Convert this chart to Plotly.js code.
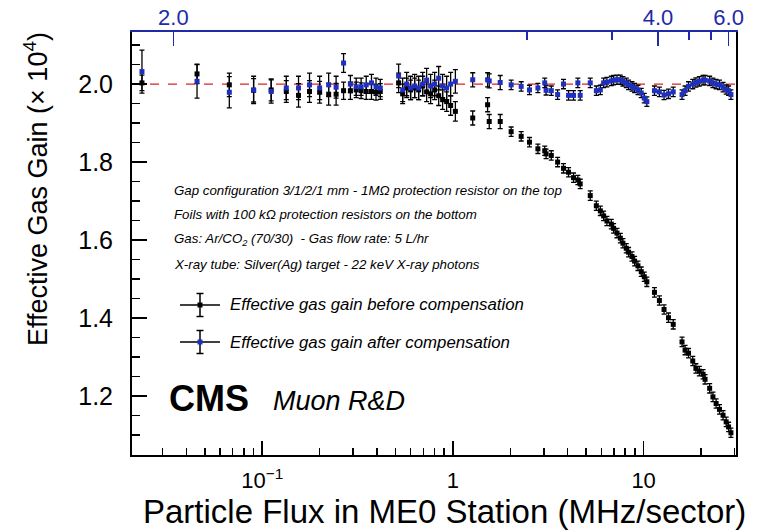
<!DOCTYPE html>
<html>
<head>
<meta charset="utf-8">
<script src="https://cdn.plot.ly/plotly-3.0.1.min.js"></script>
<style>
  html, body { margin: 0; padding: 0; background: #fff; }
  #chart { width: 757px; height: 532px; }
</style>
</head>
<body>
<div id="chart"></div>
<script>
// ---- Data ----
// Particle flux in ME0 station (MHz/sector)
const flux = [
  0.0234, 0.0455, 0.0672, 0.0901, 0.1114, 0.1337, 0.155, 0.177, 0.200, 0.223,
  0.244, 0.267, 0.290, 0.311, 0.330, 0.351, 0.374, 0.395, 0.416,
  0.519, 0.545, 0.572, 0.600, 0.630, 0.661, 0.694, 0.728, 0.764, 0.802,
  0.842, 0.883, 0.927, 0.973, 1.03,
  1.27, 1.52, 1.55, 1.77,
  2.02, 2.28, 2.52, 2.79, 3.03, 3.08, 3.28, 3.54, 3.80, 4.04,
  4.29, 4.52, 4.65, 5.25, 5.65, 5.93, 6.17, 6.42, 6.77, 6.96,
  7.25, 7.55, 7.79, 8.11, 8.34, 8.69, 8.97, 9.34, 9.72, 10.08,
  10.4, 11.4, 12.1, 12.8, 13.5, 14.3, 15.9, 16.5, 17.2, 18.1,
  18.8, 19.6, 20.5, 21.0, 22.2, 23.1, 24.0, 25.0, 26.1, 27.1,
  27.9, 28.7
];
// Effective gas gain (x 10^4) before compensation
const gainBefore = [
  2.003, 2.026, 1.998, 1.984, 1.985, 1.981, 1.971, 1.981, 1.979, 1.974,
  1.974, 1.983, 1.983, 1.985, 1.983, 1.981, 1.981, 1.979, 1.981,
  2.003, 1.975, 1.990, 1.985, 1.990, 1.985, 1.995, 1.980, 1.975, 1.985,
  1.970, 1.960, 1.955, 1.945, 1.930,
  1.913, 1.947, 1.904, 1.904,
  1.878, 1.866, 1.851, 1.834, 1.829, 1.821, 1.817, 1.800, 1.784, 1.774,
  1.760, 1.754, 1.744, 1.714, 1.688, 1.675, 1.662, 1.649, 1.641, 1.630,
  1.618, 1.605, 1.592, 1.579, 1.569, 1.558, 1.546, 1.534, 1.519, 1.506,
  1.493, 1.466, 1.445, 1.422, 1.401, 1.384, 1.339, 1.318, 1.310, 1.290,
  1.271, 1.264, 1.256, 1.243, 1.220, 1.198, 1.181, 1.166, 1.151, 1.134,
  1.121, 1.106
];
const errBefore = [
  0.020, 0.025, 0.030, 0.030, 0.028, 0.028, 0.030, 0.028, 0.028, 0.028,
  0.028, 0.022, 0.022, 0.020, 0.020, 0.020, 0.020, 0.020, 0.020,
  0.025, 0.025, 0.025, 0.025, 0.025, 0.025, 0.025, 0.025, 0.025, 0.025,
  0.025, 0.025, 0.025, 0.025, 0.025,
  0.018, 0.018, 0.018, 0.018,
  0.012, 0.012, 0.012, 0.012, 0.012, 0.012, 0.012, 0.012, 0.012, 0.012,
  0.012, 0.012, 0.012, 0.012, 0.012, 0.012, 0.012, 0.012, 0.012, 0.012,
  0.012, 0.012, 0.012, 0.012, 0.012, 0.012, 0.012, 0.012, 0.012, 0.012,
  0.012, 0.012, 0.012, 0.012, 0.012, 0.012, 0.012, 0.012, 0.012, 0.012,
  0.012, 0.012, 0.012, 0.012, 0.012, 0.012, 0.012, 0.012, 0.012, 0.012,
  0.012, 0.012
];
// Effective gas gain (x 10^4) after compensation
const gainAfter = [
  2.032, 2.007, 1.979, 1.985, 1.981, 1.990, 1.990, 1.998, 1.990, 1.998,
  1.992, 2.054, 2.000, 1.993, 1.993, 1.998, 2.003, 1.993, 1.990,
  2.021, 1.985, 2.000, 1.990, 1.995, 1.990, 2.000, 2.010, 1.995, 2.000,
  2.015, 1.995, 1.990, 2.000, 2.007,
  2.011, 2.011, 2.008, 2.004,
  1.998, 1.994, 1.985, 1.990, 2.003, 1.984, 1.983, 1.973, 2.000, 1.971,
  1.971, 2.003, 1.971, 2.003, 1.983, 1.985, 2.003, 2.005, 2.008, 2.010,
  2.011, 2.011, 2.007, 2.003, 1.998, 1.994, 1.990, 1.985, 1.977, 1.964,
  1.955, 1.983, 1.980, 1.972, 1.975, 1.980, 1.973, 1.983, 1.994, 2.000,
  2.004, 2.007, 2.010, 2.010, 2.008, 2.003, 2.000, 1.998, 1.992, 1.986,
  1.983, 1.973
];
const errAfter = [
  0.055, 0.043, 0.040, 0.035, 0.030, 0.030, 0.030, 0.030, 0.030, 0.030,
  0.028, 0.024, 0.022, 0.022, 0.022, 0.022, 0.022, 0.022, 0.022,
  0.030, 0.030, 0.030, 0.030, 0.030, 0.030, 0.030, 0.030, 0.030, 0.030,
  0.030, 0.030, 0.030, 0.030, 0.030,
  0.018, 0.018, 0.018, 0.018,
  0.012, 0.012, 0.012, 0.012, 0.012, 0.012, 0.012, 0.012, 0.012, 0.012,
  0.012, 0.012, 0.012, 0.012, 0.012, 0.012, 0.012, 0.012, 0.012, 0.012,
  0.012, 0.012, 0.012, 0.012, 0.012, 0.012, 0.012, 0.012, 0.012, 0.012,
  0.012, 0.012, 0.012, 0.012, 0.012, 0.012, 0.012, 0.012, 0.012, 0.012,
  0.012, 0.012, 0.012, 0.012, 0.012, 0.012, 0.012, 0.012, 0.012, 0.012,
  0.012, 0.012
];
const referenceGain = 2.0;

// Axis ticks
const xTickVals = [0.1, 1, 10];
const xTickText = ['10<sup>\u22121</sup>', '1', '10'];
const xMinorVals = [0.03,0.04,0.05,0.06,0.07,0.08,0.09,0.2,0.3,0.4,0.5,0.6,0.7,0.8,0.9,2,3,4,5,6,7,8,9,20,30];
const yTickVals = [1.2, 1.4, 1.6, 1.8, 2.0];
const yTickText = ['1.2', '1.4', '1.6', '1.8', '2.0'];
// Top axis (positions expressed on the flux scale)
const topMajorFlux = [0.0342, 11.9, 27.9];
const topMajorText = ['2.0', '4.0', '6.0'];
const topMinorFlux = [2.45, 6.83, 17.3, 22.5];

const seriesNames = ['Effective gas gain before compensation', 'Effective gas gain after compensation'];
const infoLines = [
  'Gap configuration 3/1/2/1 mm - 1M\u03A9 protection resistor on the top',
  'Foils with 100 k\u03A9 protection resistors on the bottom',
  'Gas: Ar/CO<sub>2</sub> (70/30)  - Gas flow rate: 5 L/hr',
  'X-ray tube: Silver(Ag) target - 22 keV X-ray photons'
];

// ---- Styles ----
const FONT = 'Liberation Sans, Arial, Helvetica, sans-serif';
const BLUE = '#1e2aa8';
const MBLUE = '#1f2fc0';
const xRange = [-1.683, 1.4845];

const traces = [
  {
    x: flux, y: gainBefore, type: 'scatter', mode: 'markers', name: seriesNames[0],
    marker: { symbol: 'square', size: 5, color: '#000' },
    error_y: { type: 'data', array: errBefore, visible: true, color: '#000', thickness: 1.3, width: 2.5 },
    showlegend: false, hoverinfo: 'x+y'
  },
  {
    x: flux, y: gainAfter, type: 'scatter', mode: 'markers', name: seriesNames[1],
    marker: { symbol: 'square', size: 5, color: MBLUE },
    error_y: { type: 'data', array: errAfter, visible: true, color: '#000', thickness: 1.3, width: 2.5 },
    showlegend: false, hoverinfo: 'x+y'
  },
  // invisible carriers so the overlay axes are drawn
  { x: flux, y: gainAfter, xaxis: 'x2', type: 'scatter', mode: 'none', showlegend: false, hoverinfo: 'skip' },
  { x: flux, y: gainAfter, xaxis: 'x3', type: 'scatter', mode: 'none', showlegend: false, hoverinfo: 'skip' },
  { x: flux, y: gainAfter, xaxis: 'x4', type: 'scatter', mode: 'none', showlegend: false, hoverinfo: 'skip' }
];

// paper coordinate helpers (plot area: 604 x 423 px)
const L = 132, T = 32, W = 604, H = 423;
const px = v => (v - L) / W;
const py = v => (T + H - v) / H;

const annotations = [];
infoLines.forEach((t, i) => {
  annotations.push({
    xref: 'paper', yref: 'paper', x: px(172), y: py(190 + i * 24.7), xanchor: 'left', yanchor: 'middle',
    text: t, showarrow: false, font: { family: FONT, size: 13.3, style: 'italic', color: '#000' }
  });
});
const legendY = [305, 342];
seriesNames.forEach((t, i) => {
  annotations.push({
    xref: 'paper', yref: 'paper', x: px(228), y: py(legendY[i]), xanchor: 'left', yanchor: 'middle',
    text: t, showarrow: false, font: { family: FONT, size: 16.8, style: 'italic', color: '#000' }
  });
});
annotations.push({
  xref: 'paper', yref: 'paper', x: px(167), y: py(398), xanchor: 'left', yanchor: 'middle',
  text: '<b>CMS</b>', showarrow: false, font: { family: FONT, size: 36, color: '#000' }
});
annotations.push({
  xref: 'paper', yref: 'paper', x: px(271), y: py(401), xanchor: 'left', yanchor: 'middle',
  text: 'Muon R&amp;D', showarrow: false, font: { family: FONT, size: 27, style: 'italic', color: '#000' }
});
// axis titles
annotations.push({
  xref: 'paper', yref: 'paper', x: px(748), y: py(511), xanchor: 'right', yanchor: 'middle',
  text: 'Particle Flux in ME0 Station (MHz/sector)', showarrow: false, font: { family: FONT, size: 33, color: '#000' }
});
annotations.push({
  xref: 'paper', yref: 'paper', x: px(36), y: py(30), xanchor: 'center', yanchor: 'top', textangle: -90,
  text: 'Effective Gas Gain (\u00D7 10<sup>4</sup>)', showarrow: false, font: { family: FONT, size: 27, color: '#000' }
});

const shapes = [
  { type: 'line', xref: 'paper', yref: 'y', x0: 0, x1: 1, y0: referenceGain, y1: referenceGain,
    line: { color: '#d22', width: 1.2, dash: 'dash' }, layer: 'below' }
];
// legend symbols
legendY.forEach((yy, i) => {
  const cx = px(200), cy = py(yy);
  shapes.push({ type: 'line', xref: 'paper', yref: 'paper', x0: px(180), x1: px(220), y0: cy, y1: cy, line: { color: '#000', width: 1.5 } });
  shapes.push({ type: 'line', xref: 'paper', yref: 'paper', x0: cx, x1: cx, y0: py(yy - 11.5), y1: py(yy + 11.5), line: { color: '#000', width: 1.5 } });
  shapes.push({ type: 'line', xref: 'paper', yref: 'paper', x0: px(196.5), x1: px(203.5), y0: py(yy - 11.5), y1: py(yy - 11.5), line: { color: '#000', width: 1.5 } });
  shapes.push({ type: 'line', xref: 'paper', yref: 'paper', x0: px(196.5), x1: px(203.5), y0: py(yy + 11.5), y1: py(yy + 11.5), line: { color: '#000', width: 1.5 } });
  shapes.push({ type: 'rect', xref: 'paper', yref: 'paper', x0: px(197.5), x1: px(202.5), y0: py(yy + 2.5), y1: py(yy - 2.5),
    line: { width: 0 }, fillcolor: i === 0 ? '#000' : MBLUE });
});

const layout = {
  width: 757, height: 532,
  margin: { l: L, r: 757 - L - W, t: T, b: 532 - T - H, pad: 0 },
  paper_bgcolor: '#fff', plot_bgcolor: '#fff',
  showlegend: false,
  font: { family: FONT, color: '#000' },
  xaxis: {
    type: 'log', range: xRange, tickvals: xTickVals, ticktext: xTickText,
    ticks: 'inside', ticklen: 14, tickwidth: 1.5, tickcolor: '#000',
    showline: true, linecolor: '#000', linewidth: 2, mirror: false,
    showgrid: false, zeroline: false, tickfont: { family: FONT, size: 22, color: '#000' },
    ticklabelstandoff: 5
  },
  xaxis3: {
    type: 'log', range: xRange, overlaying: 'x', side: 'bottom', anchor: 'y',
    tickvals: xMinorVals, ticks: 'inside', ticklen: 7, tickwidth: 1.5, tickcolor: '#000',
    showticklabels: false, showline: false, showgrid: false, zeroline: false
  },
  xaxis2: {
    type: 'log', range: xRange, overlaying: 'x', side: 'top', anchor: 'y',
    tickvals: topMajorFlux, ticktext: topMajorText,
    ticks: 'inside', ticklen: 14, tickwidth: 1.5, tickcolor: BLUE,
    showline: true, linecolor: BLUE, linewidth: 2,
    showgrid: false, zeroline: false, tickfont: { family: FONT, size: 22, color: BLUE },
    ticklabelstandoff: -4
  },
  xaxis4: {
    type: 'log', range: xRange, overlaying: 'x', side: 'top', anchor: 'y',
    tickvals: topMinorFlux, ticks: 'inside', ticklen: 8, tickwidth: 1.5, tickcolor: BLUE,
    showticklabels: false, showline: false, showgrid: false, zeroline: false
  },
  yaxis: {
    range: [1.049, 2.1335], tickvals: yTickVals, ticktext: yTickText,
    ticks: 'inside', ticklen: 15, tickwidth: 1.5, tickcolor: '#000',
    minor: { dtick: 0.05, tick0: 1.0, ticks: 'inside', ticklen: 8, tickwidth: 1.5, tickcolor: '#000', showgrid: false },
    showline: true, linecolor: '#000', linewidth: 2, mirror: true,
    showgrid: false, zeroline: false, tickfont: { family: FONT, size: 25, color: '#000' },
    ticklabelstandoff: 12
  },
  annotations: annotations,
  shapes: shapes
};

Plotly.newPlot('chart', traces, layout, { staticPlot: true, displayModeBar: false });
</script>
</body>
</html>
